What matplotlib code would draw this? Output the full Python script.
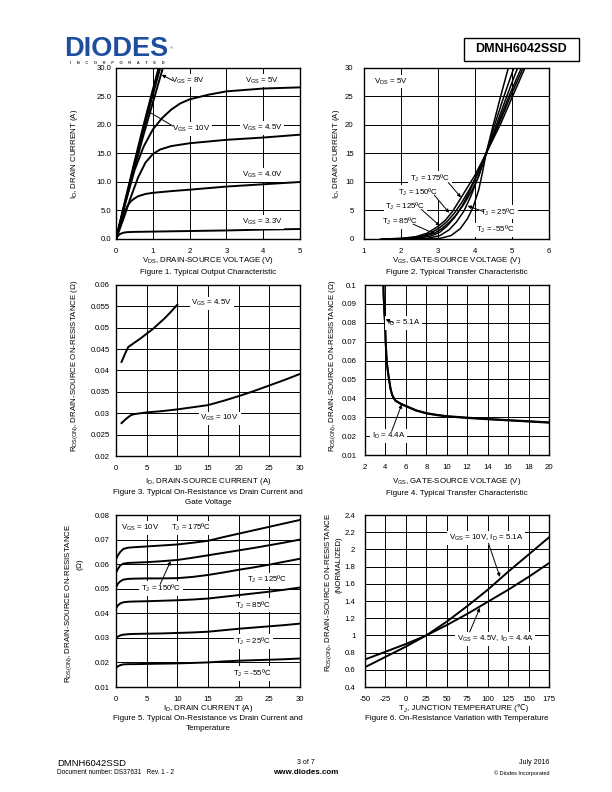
import numpy as np
import matplotlib.pyplot as plt
from matplotlib.patches import Rectangle

plt.rcParams['font.family'] = ['Liberation Sans', 'DejaVu Sans']
plt.rcParams['mathtext.fontset'] = 'custom'
plt.rcParams['mathtext.rm'] = 'Liberation Sans'
plt.rcParams['mathtext.it'] = 'Liberation Sans:italic'
plt.rcParams['mathtext.bf'] = 'Liberation Sans:bold'

# ---- Figure 1: output characteristic ----
vds_steep = [0, 0.25, 0.5, 0.75, 1.0, 1.3]
id_vgs10 = [0, 6.8, 13.5, 20.0, 26.2, 33.5]
id_vgs8 = [0, 6.6, 13.0, 19.3, 25.3, 32.3]
id_vgs6 = [0, 6.3, 12.4, 18.3, 23.9, 30.6]
vds_5 = [0, 0.25, 0.5, 0.75, 1.0, 1.25, 1.5, 1.75, 2, 2.5, 3, 4, 5]
id_vgs5 = [0, 6.2, 12.0, 16.2, 19.2, 21.2, 22.7, 23.8, 24.5, 25.3, 25.9, 26.4, 26.6]
vds_45 = [0, 0.2, 0.4, 0.6, 0.8, 1.0, 1.2, 1.5, 2, 3, 4, 5]
id_vgs45 = [0, 3.5, 7.3, 10.8, 13.4, 14.9, 15.7, 16.3, 16.8, 17.4, 17.8, 18.3]
vds_40 = [0, 0.1, 0.2, 0.3, 0.4, 0.5, 0.6, 0.8, 1, 1.5, 2, 3, 4, 5]
id_vgs40 = [0, 2.0, 4.0, 5.7, 6.6, 7.1, 7.5, 7.9, 8.1, 8.4, 8.65, 9.2, 9.6, 10.0]
vds_33 = [0, 0.05, 0.1, 0.2, 0.3, 0.5, 1, 2, 3, 4, 5]
id_vgs33 = [0, 0.5, 0.85, 1.1, 1.2, 1.25, 1.3, 1.4, 1.5, 1.65, 1.75]

# ---- Figure 2: transfer characteristic ----
vgs_175 = [1.45, 2.0, 2.4, 2.7, 3.0, 3.2, 3.4, 3.6, 3.8, 4.0, 4.3, 4.7, 5.0, 5.35]
id_175 = [0, 0.1, 0.4, 1.0, 2.2, 3.3, 4.9, 7.0, 9.1, 11.2, 15.0, 20.3, 24.8, 30]
vgs_150 = [1.5, 2.1, 2.5, 2.8, 3.05, 3.25, 3.45, 3.65, 3.85, 4.05, 4.3, 4.65, 4.95, 5.3]
id_150 = [0, 0.1, 0.4, 1.0, 2.0, 3.1, 4.6, 6.5, 8.7, 11.2, 15.0, 20.2, 24.9, 30]
vgs_125 = [1.6, 2.2, 2.6, 2.9, 3.1, 3.3, 3.5, 3.7, 3.9, 4.1, 4.3, 4.6, 4.9, 5.25]
id_125 = [0, 0.1, 0.4, 1.0, 1.8, 2.9, 4.3, 6.1, 8.3, 11.0, 15.0, 19.8, 24.8, 30]
vgs_85 = [1.7, 2.4, 2.8, 3.05, 3.25, 3.45, 3.65, 3.85, 4.05, 4.3, 4.55, 4.85, 5.15]
id_85 = [0, 0.1, 0.5, 1.2, 2.3, 3.8, 5.8, 8.3, 11.2, 15.0, 19.5, 24.9, 30]
vgs_25 = [2.0, 2.7, 3.05, 3.3, 3.5, 3.7, 3.9, 4.1, 4.3, 4.52, 4.78, 5.05]
id_25 = [0, 0.1, 0.6, 1.6, 3.0, 4.9, 7.7, 11.1, 15.0, 19.8, 25.0, 30]
vgs_m55 = [2.6, 3.05, 3.35, 3.6, 3.8, 3.95, 4.1, 4.2, 4.3, 4.5, 4.7, 4.9]
id_m55 = [0, 0.1, 0.6, 1.8, 3.6, 5.6, 8.6, 11.6, 15.0, 20.2, 25.2, 30]

# ---- Figure 3: Rds(on) vs drain current and gate voltage ----
id_f3_45 = [0.9, 1.5, 2.0, 3, 4, 5, 6, 7, 8, 9, 10]
rds_f3_45 = [0.042, 0.044, 0.0455, 0.0465, 0.0475, 0.0486, 0.0497, 0.051, 0.0523, 0.0538, 0.0554]
id_f3_10 = [0.9, 1.5, 2, 2.5, 3, 4, 5, 7.5, 10, 12.5, 15, 17.5, 20, 22.5, 25, 27.5, 30]
rds_f3_10 = [0.0277, 0.0285, 0.0291, 0.0296, 0.0298, 0.0300, 0.0302, 0.0305, 0.0309, 0.0314,
             0.0319, 0.0329, 0.034, 0.0352, 0.0365, 0.0378, 0.0392]

# ---- Figure 4: Rds(on) vs gate voltage ----
vgs_f4 = [3.8, 3.82, 3.86, 3.9, 3.96, 4.02, 4.12, 4.22, 4.35, 4.5, 4.65, 4.83, 5.0, 5.5, 6, 7, 8,
          9, 10, 12, 14, 16, 18, 20]
rds_f4_51 = [0.1, 0.095, 0.09, 0.085, 0.08, 0.07, 0.06, 0.055, 0.05, 0.045, 0.042, 0.04, 0.0388,
             0.0372, 0.036, 0.0337, 0.0322, 0.0313, 0.0306, 0.0298, 0.0291, 0.0285, 0.0279, 0.0273]
rds_f4_44 = [0.1, 0.095, 0.09, 0.085, 0.08, 0.07, 0.06, 0.055, 0.05, 0.045, 0.0418, 0.0398, 0.0386,
             0.037, 0.0358, 0.0335, 0.032, 0.0311, 0.0304, 0.0296, 0.0289, 0.0283, 0.0277, 0.0271]

# ---- Figure 5: Rds(on) vs drain current and temperature ----
id_f5 = [0, 0.3, 0.7, 1.2, 2, 3, 5, 7.5, 10, 12.5, 15, 17.5, 20, 22.5, 25, 27.5, 30]
rds_t175 = [0.062, 0.0635, 0.065, 0.0662, 0.0667, 0.0669, 0.0672, 0.0676, 0.068, 0.0687, 0.0695,
            0.071, 0.0724, 0.0738, 0.0752, 0.0766, 0.078]
rds_t150 = [0.0565, 0.058, 0.0595, 0.0602, 0.0605, 0.0606, 0.0608, 0.0612, 0.0617, 0.0626, 0.0636,
            0.0646, 0.0656, 0.0666, 0.0677, 0.0688, 0.07]
rds_t125 = [0.0505, 0.052, 0.053, 0.0537, 0.054, 0.0541, 0.0542, 0.0542, 0.0543, 0.0548, 0.0556,
            0.0566, 0.0577, 0.0587, 0.0598, 0.061, 0.0622]
rds_t85 = [0.042, 0.0432, 0.044, 0.0445, 0.0447, 0.0448, 0.0449, 0.0451, 0.0453, 0.0456, 0.046,
           0.0467, 0.0474, 0.0481, 0.0488, 0.0496, 0.0505]
rds_t25 = [0.030, 0.0305, 0.031, 0.0313, 0.0315, 0.0316, 0.0317, 0.0318, 0.032, 0.0322, 0.0325,
           0.0331, 0.0337, 0.0342, 0.0347, 0.0352, 0.0358]
rds_tm55 = [0.0178, 0.0184, 0.0189, 0.0192, 0.0193, 0.0193, 0.0194, 0.0195, 0.0196, 0.0198, 0.020,
            0.0204, 0.0207, 0.0209, 0.0211, 0.0213, 0.0216]

# ---- Figure 6: normalized Rds(on) vs junction temperature ----
tj = [-50, -25, 0, 25, 50, 75, 100, 125, 150, 175]
rn_10v = [0.63, 0.75, 0.87, 1.0, 1.16, 1.34, 1.53, 1.74, 1.94, 2.14]
rn_45v = [0.72, 0.81, 0.90, 1.0, 1.12, 1.25, 1.39, 1.53, 1.68, 1.84]

W, H = 612, 792
fig = plt.figure(figsize=(W / 100, H / 100), dpi=100)
fig.patch.set_facecolor('white')

LW = 1.4
FS = 5.7


def ftxt(x, y, s, **kw):
    return fig.text(x / W, 1 - y / H, s, **kw)


def make_ax(l, t, r, b, xlim, ylim, xt, yt, xfmt, yfmt, ypad):
    ax = fig.add_axes([l / W, 1 - b / H, (r - l) / W, (b - t) / H])
    ax.set_xlim(xlim)
    ax.set_ylim(ylim)
    ax.set_xticks(xt)
    ax.set_yticks(yt)
    ax.set_xticklabels([xfmt % v for v in xt])
    ax.set_yticklabels([yfmt % v for v in yt])
    ax.tick_params(axis='both', length=0, labelsize=5.6)
    ax.tick_params(axis='x', pad=6.5)
    ax.tick_params(axis='y', pad=ypad)
    ax.grid(True, color='black', lw=0.7)
    ax.set_axisbelow(True)
    for sp in ax.spines.values():
        sp.set_linewidth(1.0)
    return ax


def label(ax, x, y, s):
    ax.text(x, y, s, fontsize=FS, ha='center', va='center', zorder=5,
            bbox=dict(facecolor='white', edgecolor='none', pad=1.2))


def arrow(ax, p_from, p_to):
    ax.annotate('', xy=p_to, xytext=p_from, zorder=6,
                arrowprops=dict(arrowstyle='-|>', color='black', lw=0.7,
                                mutation_scale=5, shrinkA=0, shrinkB=0))


# Figure 1
ax1 = make_ax(116, 68, 300, 239, (0, 5), (0, 30), np.arange(0, 6), np.arange(0, 31, 5),
              '%d', '%.1f', 3.5)
ax1.plot(vds_steep, id_vgs10, color='k', lw=LW)
ax1.plot(vds_steep, id_vgs8, color='k', lw=LW)
ax1.plot(vds_steep, id_vgs6, color='k', lw=LW)
ax1.plot(vds_5, id_vgs5, color='k', lw=LW)
ax1.plot(vds_45, id_vgs45, color='k', lw=LW)
ax1.plot(vds_40, id_vgs40, color='k', lw=LW)
ax1.plot(vds_33, id_vgs33, color='k', lw=LW)
label(ax1, 1.95, 27.8, r'V$_{\rm GS}$ = 8V')
arrow(ax1, (1.55, 27.8), (1.24, 28.8))
label(ax1, 2.05, 19.3, r'V$_{\rm GS}$ = 10V')
arrow(ax1, (1.55, 19.8), (0.82, 22.6))
label(ax1, 3.98, 27.8, r'V$_{\rm GS}$ = 5V')
label(ax1, 3.98, 19.5, r'V$_{\rm GS}$ = 4.5V')
label(ax1, 3.98, 11.2, r'V$_{\rm GS}$ = 4.0V')
label(ax1, 3.98, 3.0, r'V$_{\rm GS}$ = 3.3V')
ftxt(75, 154, r'I$_{\rm D}$, DRAIN CURRENT (A)', fontsize=FS, rotation=90, ha='center', va='center')
ftxt(208, 261, r'V$_{\rm DS}$, DRAIN-SOURCE VOLTAGE (V)', fontsize=FS, ha='center', va='center')
ftxt(208, 272, 'Figure 1. Typical Output Characteristic', fontsize=5.8, ha='center', va='center')

# Figure 2
ax2 = make_ax(364, 68, 549, 239, (1, 6), (0, 30), np.arange(1, 7), np.arange(0, 31, 5),
              '%d', '%d', 7.5)
for xs, ys in [(vgs_175, id_175), (vgs_150, id_150), (vgs_125, id_125),
               (vgs_85, id_85), (vgs_25, id_25), (vgs_m55, id_m55)]:
    ax2.plot(xs, ys, color='k', lw=1.1)
label(ax2, 1.72, 27.6, r'V$_{\rm DS}$ = 5V')
label(ax2, 2.78, 10.7, r'T$_{\rm J}$ = 175ºC')
arrow(ax2, (3.28, 9.9), (3.62, 7.3))
label(ax2, 2.45, 8.2, r'T$_{\rm J}$ = 150ºC')
arrow(ax2, (2.9, 7.7), (3.3, 4.6))
label(ax2, 2.12, 5.7, r'T$_{\rm J}$ = 125ºC')
arrow(ax2, (2.55, 5.2), (3.05, 2.3))
label(ax2, 1.97, 3.1, r'T$_{\rm J}$ = 85ºC')
arrow(ax2, (2.33, 2.6), (2.92, 0.9))
label(ax2, 4.63, 4.7, r'T$_{\rm J}$ = 25ºC')
arrow(ax2, (4.24, 4.8), (3.8, 5.8))
label(ax2, 4.55, 1.6, r'T$_{\rm J}$ = -55ºC')
ftxt(337, 154, r'I$_{\rm D}$, DRAIN CURRENT (A)', fontsize=FS, rotation=90, ha='center', va='center')
ftxt(457, 261, r'V$_{\rm GS}$, GATE-SOURCE VOLTAGE (V)', fontsize=FS, ha='center', va='center')
ftxt(457, 272, 'Figure 2. Typical Transfer Characteristic', fontsize=5.8, ha='center', va='center')

# Figure 3
ax3 = make_ax(116, 285, 300, 456, (0, 30), (0.02, 0.06), np.arange(0, 31, 5),
              np.arange(0.02, 0.0601, 0.005), '%d', '%g', 4.5)
ax3.plot(id_f3_45, rds_f3_45, color='k', lw=LW)
ax3.plot(id_f3_10, rds_f3_10, color='k', lw=LW)
label(ax3, 15.6, 0.0557, r'V$_{\rm GS}$ = 4.5V')
label(ax3, 16.9, 0.0288, r'V$_{\rm GS}$ = 10V')
ftxt(75, 366, r'R$_{\rm DS(ON)}$, DRAIN-SOURCE ON-RESISTANCE ($\Omega$)', fontsize=FS,
     rotation=90, ha='center', va='center')
ftxt(208, 481, r'I$_{\rm D}$, DRAIN-SOURCE CURRENT (A)', fontsize=FS, ha='center', va='center')
ftxt(208, 492, 'Figure 3. Typical On-Resistance vs Drain Current and', fontsize=5.8,
     ha='center', va='center')
ftxt(208, 502, 'Gate Voltage', fontsize=5.8, ha='center', va='center')

# Figure 4
ax4 = make_ax(365, 285, 549, 455, (2, 20), (0.01, 0.1), np.arange(2, 21, 2),
              np.arange(0.01, 0.1001, 0.01), '%d', '%g', 6)
ax4.plot(vgs_f4, rds_f4_51, color='k', lw=LW)
ax4.plot(vgs_f4, rds_f4_44, color='k', lw=LW)
label(ax4, 5.75, 0.080, r'I$_{\rm D}$ = 5.1A')
arrow(ax4, (4.75, 0.0802), (4.02, 0.0818))
label(ax4, 4.3, 0.020, r'I$_{\rm D}$ = 4.4A')
arrow(ax4, (4.6, 0.0225), (5.6, 0.0368))
ftxt(333, 366, r'R$_{\rm DS(ON)}$, DRAIN-SOURCE ON-RESISTANCE ($\Omega$)', fontsize=FS,
     rotation=90, ha='center', va='center')
ftxt(457, 481, r'V$_{\rm GS}$, GATE-SOURCE VOLTAGE (V)', fontsize=FS, ha='center', va='center')
ftxt(457, 493, 'Figure 4. Typical Transfer Characteristic', fontsize=5.8, ha='center', va='center')

# Figure 5
ax5 = make_ax(116, 515, 300, 687, (0, 30), (0.01, 0.08), np.arange(0, 31, 5),
              np.arange(0.01, 0.0801, 0.01), '%d', '%g', 4.5)
for ys in [rds_t175, rds_t150, rds_t125, rds_t85, rds_t25, rds_tm55]:
    ax5.plot(id_f5, ys, color='k', lw=LW)
label(ax5, 3.9, 0.0748, r'V$_{\rm GS}$ = 10V')
label(ax5, 12.2, 0.0748, r'T$_{\rm J}$ = 175ºC')
label(ax5, 7.3, 0.050, r'T$_{\rm J}$ = 150ºC')
arrow(ax5, (7.2, 0.0518), (8.9, 0.0612))
label(ax5, 24.6, 0.0536, r'T$_{\rm J}$ = 125ºC')
label(ax5, 22.4, 0.0434, r'T$_{\rm J}$ = 85ºC')
label(ax5, 22.4, 0.0286, r'T$_{\rm J}$ = 25ºC')
label(ax5, 22.2, 0.0154, r'T$_{\rm J}$ = -55ºC')
ftxt(69, 603, r'R$_{\rm DS(ON)}$, DRAIN-SOURCE ON-RESISTANCE', fontsize=FS, rotation=90,
     ha='center', va='center')
ftxt(80, 565, r'($\Omega$)', fontsize=FS, rotation=90, ha='center', va='center')
ftxt(208, 708, r'I$_{\rm D}$, DRAIN CURRENT (A)', fontsize=FS, ha='center', va='center')
ftxt(208, 719, 'Figure 5. Typical On-Resistance vs Drain Current and', fontsize=5.8,
     ha='center', va='center')
ftxt(208, 728.5, 'Temperature', fontsize=5.8, ha='center', va='center')

# Figure 6
ax6 = make_ax(365, 515, 549, 687, (-50, 175), (0.4, 2.4), np.arange(-50, 176, 25),
              np.arange(0.4, 2.401, 0.2), '%d', '%g', 7)
ax6.plot(tj, rn_10v, color='k', lw=LW)
ax6.plot(tj, rn_45v, color='k', lw=LW)
label(ax6, 98, 2.13, r'V$_{\rm GS}$ = 10V, I$_{\rm D}$ = 5.1A')
arrow(ax6, (101, 2.07), (115, 1.68))
label(ax6, 109, 0.96, r'V$_{\rm GS}$ = 4.5V, I$_{\rm D}$ = 4.4A')
arrow(ax6, (78, 1.04), (90.5, 1.32))
ftxt(329, 592, r'R$_{\rm DS(ON)}$, DRAIN-SOURCE ON-RESISTANCE', fontsize=FS, rotation=90,
     ha='center', va='center')
ftxt(339, 565, '(NORMALIZED)', fontsize=FS, rotation=90, ha='center', va='center')
# plain-text pieces so the degree-Celsius sign can fall back to DejaVu Sans
t6_t = ftxt(399, 709.5, 'T', fontsize=FS, ha='left', va='baseline')
t6_j = ax6.annotate('J', xy=(1, 0), xycoords=t6_t, xytext=(0.2, -1.0),
                    textcoords='offset points', fontsize=4.0, ha='left', va='bottom',
                    annotation_clip=False)
ax6.annotate(', JUNCTION TEMPERATURE (℃)', xy=(1, 0), xycoords=(t6_j, t6_t),
             fontsize=FS, ha='left', va='bottom', annotation_clip=False)
ftxt(457, 718.5, 'Figure 6. On-Resistance Variation with Temperature', fontsize=5.8,
     ha='center', va='center')

# header
ftxt(64, 55.5, 'DIODES', fontsize=19.5, fontweight='bold', color='#1d4f9e', ha='left',
     va='baseline')
ftxt(170, 49.5, '®', fontsize=3, color='#1d4f9e', ha='left', va='baseline')
ftxt(117, 62.5, 'I     N     C     O     R     P     O     R     A     T     E     D',
     fontsize=3, fontweight='bold', color='#333333', ha='center', va='center')
fig.patches.append(Rectangle((464 / W, 1 - 61 / H), (579 - 464) / W, (61 - 38) / H,
                             transform=fig.transFigure, fill=False, lw=1.0, ec='black'))
ftxt(521.5, 49.5, 'DMNH6042SSD', fontsize=9, fontweight='bold', ha='center', va='center')

# footer
ftxt(57, 763, 'DMNH6042SSD', fontsize=6.8, ha='left', va='center')
ftxt(57, 773, 'Document number: DS37631   Rev. 1 - 2', fontsize=4.7, ha='left', va='center')
ftxt(306, 763, '3 of 7', fontsize=5, ha='center', va='center')
ftxt(306, 773, 'www.diodes.com', fontsize=5.8, fontweight='bold', ha='center', va='center')
ftxt(549, 763, 'July 2016', fontsize=5, ha='right', va='center')
ftxt(549, 773, '© Diodes Incorporated', fontsize=4, ha='right', va='center')

fig.savefig('out.png', dpi=100, facecolor='white')
